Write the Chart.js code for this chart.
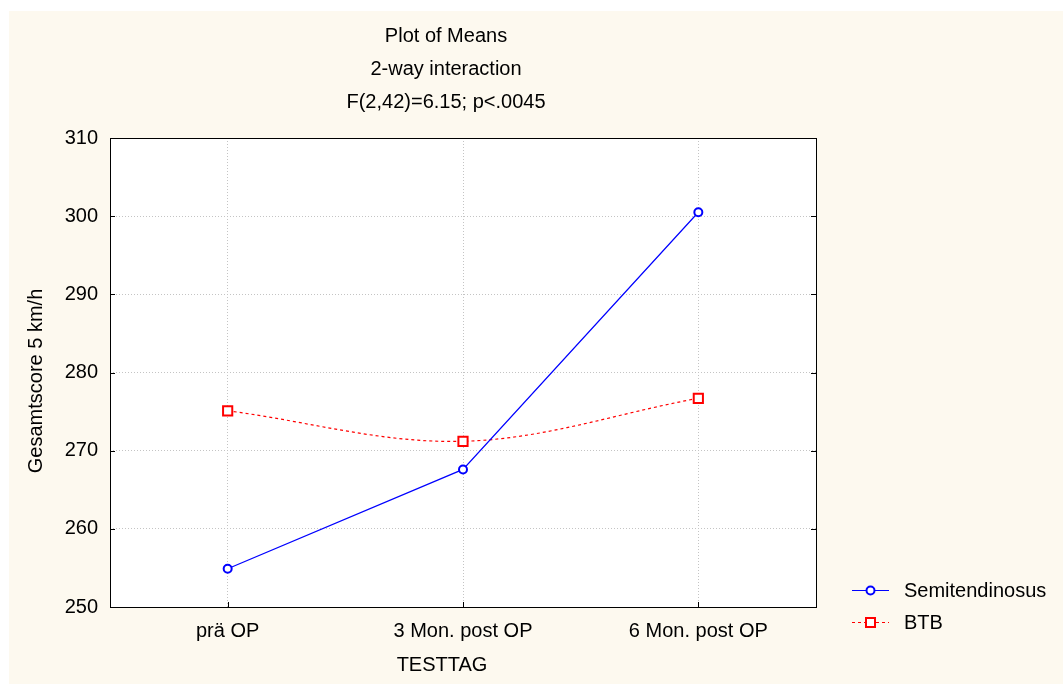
<!DOCTYPE html>
<html>
<head>
<meta charset="utf-8">
<script src="https://cdn.jsdelivr.net/npm/chart.js@4/dist/chart.umd.min.js"></script>
<style>
  html, body { margin: 0; padding: 0; background: #ffffff; }
  #wrap { position: relative; width: 1063px; height: 684px; }
</style>
</head>
<body>
<div id="wrap"><canvas id="meansChart" width="1063" height="684"></canvas></div>
<script>
// ---------------------------------------------------------
// Data: Plot of Means, 2-way interaction
// ---------------------------------------------------------
const testDays = ['prä OP', '3 Mon. post OP', '6 Mon. post OP'];
const semitendinosusMeans = [254.9, 267.6, 300.5];
const btbMeans = [275.1, 271.2, 276.7];
const yTicks = [250, 260, 270, 280, 290, 300, 310];
const titleLines = ['Plot of Means', '2-way interaction', 'F(2,42)=6.15; p<.0045'];
const xTitle = 'TESTTAG';
const yTitle = 'Gesamtscore 5 km/h';

const FONT = '"Liberation Sans", Arial, sans-serif';
const FONT_SIZE = 20;
const CREAM = '#fdf9ef';

// Background, box, inward ticks, titles and legend
const decorPlugin = {
    id: 'decor',
    beforeDraw(chart) {
        const ctx = chart.ctx;
        const a = chart.chartArea;
        ctx.save();
        ctx.fillStyle = '#ffffff';
        ctx.fillRect(0, 0, chart.width, chart.height);
        ctx.fillStyle = CREAM;
        ctx.fillRect(9, 11, chart.width - 9, chart.height - 11);
        ctx.fillStyle = '#ffffff';
        ctx.fillRect(a.left, a.top, a.right - a.left, a.bottom - a.top);
        ctx.restore();
    },
    afterDraw(chart) {
        const ctx = chart.ctx;
        const a = chart.chartArea;
        const xs = chart.scales.x;
        const ys = chart.scales.y;
        ctx.save();

        // plot frame
        ctx.strokeStyle = '#000000';
        ctx.lineWidth = 1;
        ctx.strokeRect(Math.round(a.left) + 0.5, Math.round(a.top) + 0.5,
                       Math.round(a.right - a.left), Math.round(a.bottom - a.top));

        // tick marks pointing inward
        ctx.beginPath();
        yTicks.forEach(v => {
            const py = Math.round(ys.getPixelForValue(v)) + 0.5;
            ctx.moveTo(a.left, py); ctx.lineTo(a.left + 5, py);
            ctx.moveTo(a.right, py); ctx.lineTo(a.right - 5, py);
        });
        testDays.forEach((d, i) => {
            const px = Math.round(xs.getPixelForValue(i)) + 0.5;
            ctx.moveTo(px, a.bottom); ctx.lineTo(px, a.bottom - 5);
        });
        ctx.stroke();

        // titles
        ctx.fillStyle = '#000000';
        ctx.font = FONT_SIZE + 'px ' + FONT;
        ctx.textAlign = 'center';
        ctx.textBaseline = 'middle';
        titleLines.forEach((t, i) => ctx.fillText(t, 446, 36 + i * 33));
        ctx.fillText(xTitle, 442, 665);

        // y-axis title (rotated)
        ctx.save();
        ctx.translate(36, 381);
        ctx.rotate(-Math.PI / 2);
        ctx.fillText(yTitle, 0, 0);
        ctx.restore();

        // legend
        ctx.textAlign = 'left';
        chart.data.datasets.forEach((ds, i) => {
            const ly = 590 + i * 32;
            ctx.strokeStyle = ds.borderColor;
            ctx.lineWidth = 1;
            ctx.setLineDash(ds.borderDash || []);
            ctx.beginPath();
            ctx.moveTo(852, ly + 0.5); ctx.lineTo(889, ly + 0.5);
            ctx.stroke();
            ctx.setLineDash([]);
            ctx.lineWidth = ds.pointBorderWidth;
            ctx.fillStyle = '#ffffff';
            ctx.beginPath();
            if (ds.pointStyle === 'rect') {
                ctx.rect(866, ly - 4, 9, 9);
            } else {
                ctx.arc(870.5, ly + 0.5, ds.pointRadius, 0, Math.PI * 2);
            }
            ctx.fill();
            ctx.stroke();
            ctx.fillStyle = '#000000';
            ctx.fillText(ds.label, 904, ly + 1);
        });
        ctx.restore();
    }
};

const ctx = document.getElementById('meansChart').getContext('2d');
new Chart(ctx, {
    type: 'line',
    data: {
        labels: testDays,
        datasets: [
            {
                label: 'Semitendinosus',
                data: semitendinosusMeans,
                borderColor: '#0000ff',
                borderWidth: 1.2,
                tension: 0,
                pointStyle: 'circle',
                pointRadius: 4,
                pointBorderWidth: 2,
                pointBackgroundColor: '#ffffff',
                pointBorderColor: '#0000ff'
            },
            {
                label: 'BTB',
                data: btbMeans,
                borderColor: '#ff0000',
                borderWidth: 1.2,
                borderDash: [3, 3],
                tension: 0.35,
                pointStyle: 'rect',
                pointRadius: 6.5,
                pointBorderWidth: 2,
                pointBackgroundColor: '#ffffff',
                pointBorderColor: '#ff0000'
            }
        ]
    },
    options: {
        responsive: false,
        animation: false,
        layout: { padding: { top: 138, right: 247, bottom: 0, left: 0 } },
        plugins: {
            legend: { display: false },
            title: { display: false },
            tooltip: { enabled: false }
        },
        scales: {
            x: {
                offset: true,
                afterFit: s => { s.height = 77; },
                grid: { color: '#c4c4c4', lineWidth: 1, drawTicks: false },
                border: { display: false, dash: [1, 2] },
                ticks: { color: '#000000', padding: 12, font: { family: FONT, size: FONT_SIZE } }
            },
            y: {
                min: 250,
                max: 310,
                afterFit: s => { s.width = 110; },
                afterBuildTicks: s => { s.ticks = yTicks.map(v => ({ value: v })); },
                grid: { color: '#c4c4c4', lineWidth: 1, drawTicks: false },
                border: { display: false, dash: [1, 2] },
                ticks: { color: '#000000', padding: 12, font: { family: FONT, size: FONT_SIZE } }
            }
        }
    },
    plugins: [decorPlugin]
});
</script>
</body>
</html>
